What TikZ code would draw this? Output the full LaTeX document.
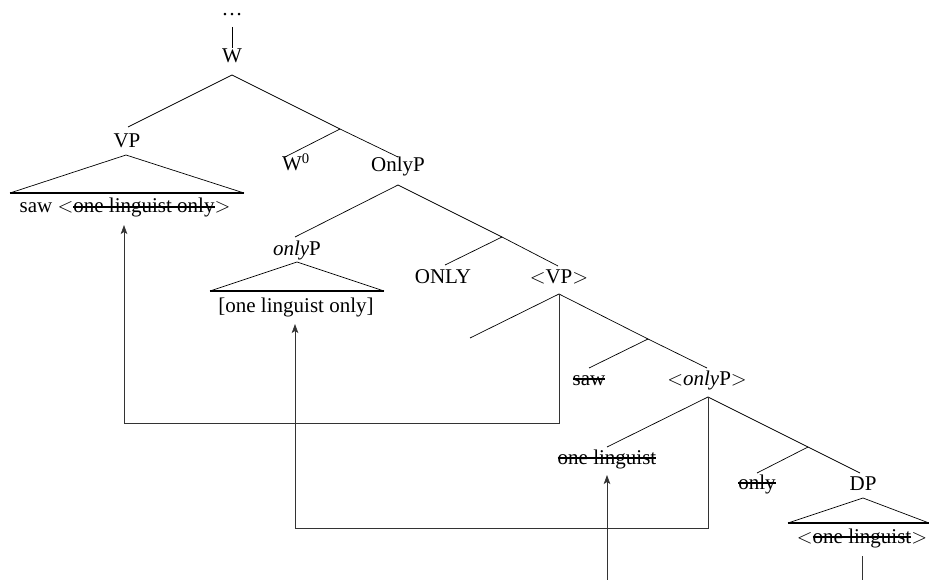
\documentclass[tikz,border=0pt]{standalone}
\usepackage{fontspec}
\setmainfont{Liberation Serif}
\usetikzlibrary{arrows.meta}
\newsavebox\strkbox
\newcommand\strk[1]{\sbox\strkbox{#1}\rlap{\rule[0.23em]{\wd\strkbox}{0.09em}}\usebox\strkbox}
\newcommand\lt{\ensuremath{<}}
\newcommand\gt{\ensuremath{>}}
\begin{document}
\begin{tikzpicture}[x=1pt,y=-1pt,
  lbl/.style={anchor=base,inner sep=0pt,font=\fontsize{21}{25}\selectfont},
  br/.style={line width=0.7pt},
  tribase/.style={line width=1.8pt},
  mv/.style={line width=0.7pt,draw=black!80},
  tip/.style={-{Stealth[length=9pt,width=6.5pt,inset=2pt]}}]
\useasboundingbox (0,0) rectangle (929,580);

% labels
\node[lbl] (dots) at (232,16) {\ldots};
\node[lbl] (W) at (232,63) {W};
\node[lbl] (VP) at (127,148) {VP};
\node[lbl] (VPtxt) at (125,213) {saw \lt\strk{one linguist only}\gt};
\node[lbl] (W0) at (296,171) {W\textsuperscript{0}};
\node[lbl] (OnlyP) at (398,172) {OnlyP};
\node[lbl] (onlyP) at (297,255) {\textit{only}P};
\node[lbl] (onlyPtxt) at (296,312) {[one linguist only]};
\node[lbl] (ONLY) at (443,283) {ONLY};
\node[lbl] (VPc) at (559,283) {\lt VP\gt};
\node[lbl] (saw) at (589,385) {\strk{saw}};
\node[lbl] (onlyPc) at (707,385) {\lt\textit{only}P\gt};
\node[lbl] (onelin) at (607,464) {\strk{one linguist}};
\node[lbl] (only) at (757,489) {\strk{only}};
\node[lbl] (DP) at (863,490) {DP};
\node[lbl] (DPtxt) at (862,543) {\lt\strk{one linguist}\gt};

% branch points
\coordinate (dotsB) at (232,27);
\coordinate (Wt) at (232,48);
\coordinate (Wb) at (232,75);
\coordinate (VPt) at (128,127);
\coordinate (Wbar) at (340,129);
\coordinate (W0t) at (285,157);
\coordinate (OnlyPt) at (398,157);
\coordinate (VPa) at (126,155);
\coordinate (VPl) at (10,193);
\coordinate (VPr) at (244,193);
\coordinate (OnlyPb) at (398,185);
\coordinate (onlyPt) at (295,237);
\coordinate (Onlybar) at (502,237);
\coordinate (ONLYt) at (445,265);
\coordinate (VPct) at (558,266);
\coordinate (onlyPa) at (297,262);
\coordinate (onlyPl) at (210,291);
\coordinate (onlyPr) at (384,291);
\coordinate (VPcb) at (559,294);
\coordinate (VPcl) at (470,338);
\coordinate (VPbar) at (648,339);
\coordinate (sawt) at (589,368);
\coordinate (onlyPct) at (707,368);
\coordinate (onlyPcb) at (708,397);
\coordinate (onelint) at (607,447);
\coordinate (onlyPbar) at (808,447);
\coordinate (onlyt) at (757,473);
\coordinate (DPt) at (860,473);
\coordinate (DPa) at (863,498);
\coordinate (DPl) at (788,523);
\coordinate (DPr) at (929,523);

% tree lines
\draw[br] (dotsB) -- (Wt);
\draw[br] (Wb) -- (VPt);
\draw[br] (Wb) -- (Wbar) -- (OnlyPt);
\draw[br] (Wbar) -- (W0t);
\draw[br] (VPl) -- (VPa) -- (VPr);
\draw[tribase] (VPl) -- (VPr);
\draw[br] (OnlyPb) -- (onlyPt);
\draw[br] (OnlyPb) -- (Onlybar) -- (VPct);
\draw[br] (Onlybar) -- (ONLYt);
\draw[br] (onlyPl) -- (onlyPa) -- (onlyPr);
\draw[tribase] (onlyPl) -- (onlyPr);
\draw[br] (VPcb) -- (VPcl);
\draw[br] (VPcb) -- (VPbar) -- (onlyPct);
\draw[br] (VPbar) -- (sawt);
\draw[br] (onlyPcb) -- (onelint);
\draw[br] (onlyPcb) -- (onlyPbar) -- (DPt);
\draw[br] (onlyPbar) -- (onlyt);
\draw[br] (DPl) -- (DPa) -- (DPr);
\draw[tribase] (DPl) -- (DPr);

% movement arrows
\coordinate (m1a) at (559,423);
\coordinate (m1b) at (124,423);
\coordinate (m1t) at (124,225);
\draw[mv,tip] (VPcb) -- (m1a) -- (m1b) -- (m1t);
\coordinate (m2a) at (708,528);
\coordinate (m2b) at (295,528);
\coordinate (m2t) at (295,324);
\draw[mv,tip] (onlyPcb) -- (m2a) -- (m2b) -- (m2t);
\coordinate (m3s) at (607,580);
\coordinate (m3t) at (607,475);
\draw[mv,tip] (m3s) -- (m3t);
\coordinate (m4s) at (862,556);
\coordinate (m4e) at (862,580);
\draw[mv] (m4s) -- (m4e);
\end{tikzpicture}
\end{document}
